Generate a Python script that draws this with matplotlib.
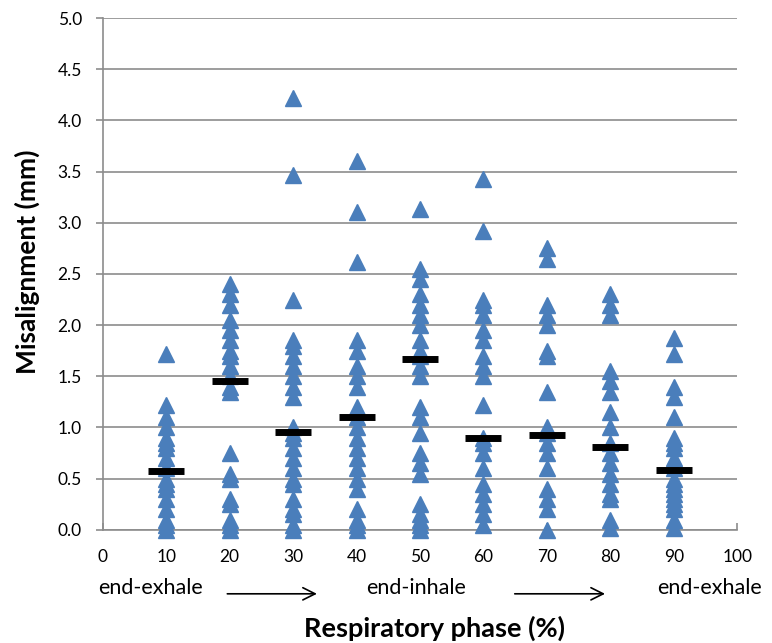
import matplotlib
matplotlib.use("Agg")
import matplotlib.pyplot as plt
from matplotlib import transforms

plt.rcParams['font.family'] = ['Lato', 'DejaVu Sans']

phases = [10, 20, 30, 40, 50, 60, 70, 80, 90]
values = {
    10: [1.72, 1.22, 1.1, 1.0, 0.9, 0.85, 0.8, 0.7, 0.6, 0.5, 0.45, 0.4, 0.3, 0.2, 0.1, 0.05, 0.0],
    20: [2.4, 2.3, 2.2, 2.05, 1.95, 1.85, 1.75, 1.7, 1.6, 1.5, 1.4, 1.35, 0.75, 0.55, 0.5, 0.3, 0.25, 0.1, 0.05, 0.0],
    30: [4.22, 3.47, 2.25, 1.85, 1.8, 1.7, 1.6, 1.5, 1.4, 1.3, 1.0, 0.95, 0.9, 0.8, 0.7, 0.6, 0.5, 0.45, 0.3, 0.2, 0.15, 0.05, 0.0],
    40: [3.6, 3.1, 2.62, 1.85, 1.75, 1.6, 1.5, 1.4, 1.2, 1.1, 1.0, 0.9, 0.8, 0.7, 0.6, 0.5, 0.4, 0.2, 0.1, 0.05, 0.0],
    50: [3.13, 2.55, 2.45, 2.3, 2.2, 2.1, 2.0, 1.85, 1.75, 1.7, 1.6, 1.5, 1.2, 1.1, 0.95, 0.75, 0.65, 0.55, 0.25, 0.15, 0.1, 0.05, 0.0],
    60: [3.43, 2.92, 2.25, 2.2, 2.1, 1.95, 1.85, 1.7, 1.6, 1.5, 1.22, 0.9, 0.85, 0.75, 0.6, 0.45, 0.35, 0.25, 0.15, 0.05],
    70: [2.75, 2.65, 2.2, 2.1, 2.0, 1.75, 1.7, 1.35, 1.0, 0.95, 0.85, 0.75, 0.6, 0.4, 0.3, 0.2, 0.0],
    80: [2.3, 2.2, 2.1, 1.55, 1.45, 1.35, 1.15, 1.0, 0.85, 0.75, 0.65, 0.55, 0.45, 0.35, 0.3, 0.1, 0.02],
    90: [1.87, 1.72, 1.4, 1.3, 1.1, 0.9, 0.85, 0.8, 0.7, 0.6, 0.5, 0.45, 0.4, 0.35, 0.3, 0.25, 0.2, 0.1, 0.02],
}
medians = [0.57, 1.45, 0.96, 1.1, 1.67, 0.9, 0.93, 0.81, 0.58]

fig = plt.figure(figsize=(7.72, 6.43), dpi=100)
ax = fig.add_axes([0.133, 0.176, 0.822, 0.796])

for p in phases:
    ax.plot([p] * len(values[p]), values[p], linestyle="none", marker="^",
            ms=11, color="#4a7ebb", mec="#4a7ebb", zorder=3, clip_on=False)
ax.plot(phases, medians, linestyle="none", marker="_", ms=26, mew=5,
        color="black", zorder=4)

ax.set_xlim(0, 100)
ax.set_ylim(0, 5.0)
ax.set_xticks(range(0, 101, 10))
ax.set_yticks([i * 0.5 for i in range(11)])
ax.set_yticklabels(["%.1f" % (i * 0.5) for i in range(11)])
ax.yaxis.grid(True, color="#8c8c8c", linewidth=1.2)
ax.set_axisbelow(True)
for s in ["top", "right"]:
    ax.spines[s].set_visible(False)
for s in ["left", "bottom"]:
    ax.spines[s].set_color("#8c8c8c")
    ax.spines[s].set_linewidth(1.2)
ax.tick_params(axis="both", colors="#8c8c8c", labelcolor="black", labelsize=12.5,
               length=5, width=1.2)
ax.tick_params(axis="y", pad=10)
ax.tick_params(axis="x", direction="in", pad=14)

fig.text(0.036, 0.593, "Misalignment (mm)", rotation=90, ha="center", va="center",
         fontsize=19, fontweight="bold")
fig.text(0.563, 0.023, "Respiratory phase (%)", ha="center", va="center",
         fontsize=19.5, fontweight="bold")

tr = transforms.blended_transform_factory(ax.transData, ax.transAxes)
ax.text(7.6, -0.113, "end-exhale", transform=tr, ha="center", va="center", fontsize=15.5, clip_on=False)
ax.text(49.4, -0.113, "end-inhale", transform=tr, ha="center", va="center", fontsize=15.5, clip_on=False)
ax.text(95.7, -0.113, "end-exhale", transform=tr, ha="center", va="center", fontsize=15.5, clip_on=False)
ax.annotate("", xy=(34.2, -0.125), xytext=(19.2, -0.125), xycoords=tr, textcoords=tr,
            arrowprops=dict(arrowstyle="->", color="black", lw=1.2, mutation_scale=22))
ax.annotate("", xy=(79.6, -0.125), xytext=(64.5, -0.125), xycoords=tr, textcoords=tr,
            arrowprops=dict(arrowstyle="->", color="black", lw=1.2, mutation_scale=22))

fig.savefig("out.png", dpi=100)
